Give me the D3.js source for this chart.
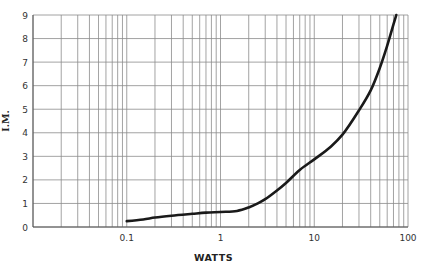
<!DOCTYPE html>
<html lang="en">
<head>
<meta charset="UTF-8">
<title>I.M. vs Watts</title>
<script src="https://d3js.org/d3.v7.min.js"></script>
<style>
  body { margin: 0; background: #fff; }
  svg { display: block; }
  .grid line { stroke: #8c8c8c; stroke-width: 0.8; }
  .tick-label { font-family: "DejaVu Sans", sans-serif; font-size: 9px; fill: #333; }
</style>
</head>
<body>
<div id="chart"></div>
<script>
// curve
const watts = [0.1, 0.15, 0.2, 0.3, 0.5, 0.7, 1, 1.5, 2, 2.5, 3, 4, 5, 7, 10, 15, 20, 30, 40, 50, 60, 70, 75];
const im    = [0.25, 0.32, 0.4, 0.48, 0.56, 0.61, 0.64, 0.68, 0.83, 1.0, 1.18, 1.55, 1.87, 2.42, 2.87, 3.41, 3.92, 4.95, 5.8, 6.75, 7.7, 8.6, 9.0];
const xTicks = [0.1, 1, 10, 100];
const xTickLabels = ["0.1", "1", "10", "100"];
const yTicks = [0, 1, 2, 3, 4, 5, 6, 7, 8, 9];

const W = 422, H = 268;
const margin = {top: 15, right: 14, bottom: 41, left: 33};

const svg = d3.select("#chart").append("svg")
    .attr("width", W).attr("height", H);

const x = d3.scaleLog().domain([0.01, 100]).range([margin.left, W - margin.right]);
const y = d3.scaleLinear().domain([0, 9]).range([H - margin.bottom, margin.top]);

// grid: 1..9 in every decade
const vLines = [];
[0.01, 0.1, 1, 10].forEach(d => { for (let k = 1; k <= 9; k++) vLines.push(d * k); });
vLines.push(100);

const grid = svg.append("g").attr("class", "grid");
grid.selectAll(".v").data(vLines).join("line")
    .attr("x1", d => x(d)).attr("x2", d => x(d))
    .attr("y1", y(0)).attr("y2", y(9));
grid.selectAll(".h").data(yTicks).join("line")
    .attr("x1", x(0.01)).attr("x2", x(100))
    .attr("y1", d => y(d)).attr("y2", d => y(d));

// axis lines a bit darker
svg.append("line").attr("x1", x(0.01)).attr("x2", x(100))
    .attr("y1", y(0)).attr("y2", y(0)).attr("stroke", "#555").attr("stroke-width", 1);
svg.append("line").attr("x1", x(0.01)).attr("x2", x(0.01))
    .attr("y1", y(0)).attr("y2", y(9)).attr("stroke", "#555").attr("stroke-width", 1);

// tick labels
svg.selectAll(".xl").data(xTicks).join("text")
    .attr("class", "tick-label")
    .attr("x", d => x(d)).attr("y", y(0) + 14)
    .attr("text-anchor", "middle")
    .text((d, i) => xTickLabels[i]);
svg.selectAll(".yl").data(yTicks).join("text")
    .attr("class", "tick-label")
    .attr("x", x(0.01) - 5).attr("y", d => y(d) + 3.5)
    .attr("text-anchor", "end")
    .text(d => d);

// titles
svg.append("text")
    .attr("x", x(1) - 7).attr("y", 261)
    .attr("text-anchor", "middle")
    .style("font-family", "DejaVu Sans, sans-serif")
    .style("font-size", "9.5px").style("font-weight", "bold").style("fill", "#222")
    .style("letter-spacing", "0.5px")
    .text("WATTS");
svg.append("text")
    .attr("transform", `translate(9, ${y(4.5)}) rotate(-90)`)
    .attr("text-anchor", "middle")
    .style("font-family", "DejaVu Serif, serif")
    .style("font-size", "9.5px").style("font-weight", "bold").style("fill", "#222")
    .text("I.M.");

// the curve
const pts = watts.map((w, i) => [w, im[i]]);
svg.append("path")
    .datum(pts)
    .attr("fill", "none")
    .attr("stroke", "#1a1a1a")
    .attr("stroke-width", 2.6)
    .attr("stroke-linecap", "round")
    .attr("d", d3.line().curve(d3.curveCatmullRom.alpha(0.5))
        .x(d => x(d[0])).y(d => y(d[1])));
</script>
</body>
</html>
